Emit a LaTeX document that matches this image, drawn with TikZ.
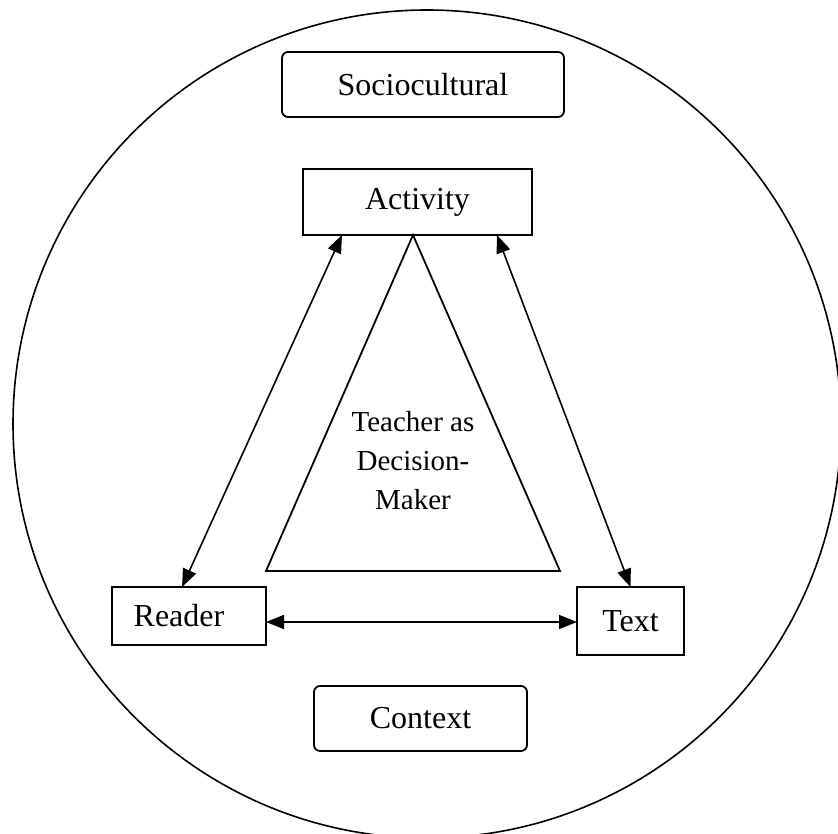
\documentclass[tikz,border=0pt]{standalone}
\usepackage{fontspec}
\setmainfont{Liberation Serif}
\usetikzlibrary{arrows.meta,calc,positioning}

\begin{document}
\begin{tikzpicture}[x=1pt,y=-1pt,line width=1.8pt,
    block/.style={draw,rectangle,outer sep=0pt,inner sep=0pt,font=\fontsize{32}{38}\selectfont},
    soft/.style={block,rounded corners=6pt},
    link/.style={{Triangle[length=18pt,width=14pt]}-{Triangle[length=18pt,width=14pt]},line width=1.6pt}]

        \useasboundingbox (0,0) rectangle (838,834);
        \clip (0,0) rectangle (838,834);

        \draw [line width=1.6pt] (427,424) circle (414);

        \node [soft, minimum width=282pt, minimum height=65pt] (soc) at (423,84.5) {Sociocultural};
        \node [block, minimum width=229pt, minimum height=66pt] (act) at (417.5,202) {Activity};
        \node [block, minimum width=154pt, minimum height=58pt] (reader) at (189,616) {Reader\hspace*{20pt}};
        \node [block, minimum width=107pt, minimum height=68pt] (text) at (630.5,621) {Text};
        \node [soft, minimum width=213pt, minimum height=65pt] (ctx) at (420.5,718.5) {Context};

        \draw (413,235) -- (266,571) -- (560,571) -- cycle;
        \node [align=center, font=\fontsize{29}{39}\selectfont] (teacher) at (413,461) {Teacher as\\Decision-\\Maker};

        \coordinate (mid) at ($(reader.east)+(0,6)$);
          \draw [link] ($(reader.north west)!0.455!(reader.north east)$) -- ($(act.south west)!0.17!(act.south east)$);
          \draw [link] (text.north) -- ($(act.south west)!0.847!(act.south east)$);
          \draw [link] (mid) -- (mid -| text.west);
        \end{tikzpicture}
\end{document}
